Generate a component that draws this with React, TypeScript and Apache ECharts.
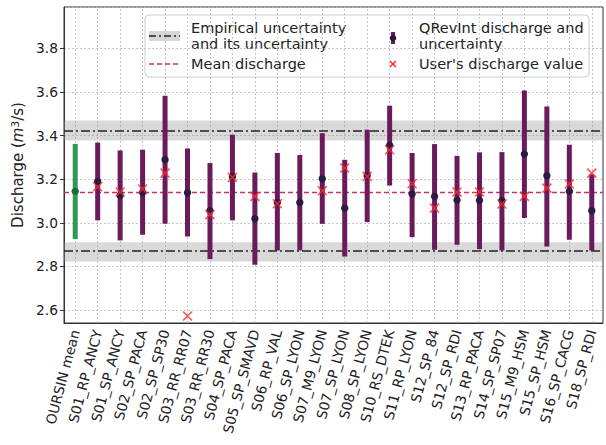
import React, { useEffect, useRef } from "react";
import * as echarts from "echarts";

const categories = [
  "OURSIN mean", "S01_RP_ANCY", "S01_SP_ANCY", "S02_SP_PACA", "S02_SP_SP30",
  "S03_RR_RR07", "S03_RR_RR30", "S04_SP_PACA", "S05_SP_SMAVD", "S06_RP_VAL",
  "S06_SP_LYON", "S07_M9_LYON", "S07_SP_LYON", "S08_SP_LYON", "S10_RS_DTEK",
  "S11_RP_LYON", "S12_SP_84", "S12_SP_RDI", "S13_RP_PACA", "S14_SP_SP07",
  "S15_M9_HSM", "S15_SP_HSM", "S16_SP_CACG", "S18_SP_RDI",
];
const qrevLow = [
  2.925, 3.011, 2.919, 2.945, 2.995, 2.937, 2.833, 3.011, 2.807, 2.873,
  2.873, 2.995, 2.845, 3.003, 3.171, 2.934, 2.876, 2.899, 2.879, 2.873,
  3.022, 2.891, 2.922, 2.873,
];
const qrevHigh = [
  3.362, 3.368, 3.332, 3.335, 3.583, 3.341, 3.274, 3.404, 3.231, 3.320,
  3.311, 3.411, 3.289, 3.427, 3.537, 3.320, 3.361, 3.307, 3.323, 3.324,
  3.607, 3.534, 3.358, 3.223,
];
const qrevValue = [
  3.144, 3.189, 3.125, 3.139, 3.289, 3.138, 3.055, 3.211, 3.018, 3.093,
  3.093, 3.202, 3.067, 3.216, 3.355, 3.132, 3.121, 3.104, 3.102, 3.101,
  3.315, 3.216, 3.144, 3.055,
];
const userValue: (number | null)[] = [
  null, 3.165, 3.141, 3.155, 3.228, 2.572, 3.037, 3.208, 3.121, 3.087,
  null, 3.147, 3.251, 3.213, 3.335, 3.179, 3.067, 3.141, 3.141, 3.086,
  3.121, 3.159, 3.178, 3.228,
];
const meanDischarge = 3.144;
const empiricalLines = [3.419, 2.872];
const empiricalBands = [
  [3.377, 3.469],
  [2.822, 2.91],
];
const yMin = 2.54;
const yMax = 3.99;
const yStep = 0.2;

const FONT = "DejaVu Sans";
const PURPLE = "#6b1a5c";
const DOT = "#2c1a42";
const GREEN = "#2e9a5a";
const GREEN_DOT = "#1e6a3c";
const CRIMSON = "#c8326b";
const RED = "#ff2b2b";
const BAND = "rgba(150,150,150,0.36)";
const GRIDC = "#b9b9b9";

export default function App() {
  const ref = useRef<HTMLDivElement>(null);
  useEffect(() => {
    if (!ref.current) return;
    const chart = echarts.init(ref.current, null, { renderer: "svg" });
    const legendText = (x: number, y: number, text: string) => ({
      type: "text",
      x,
      y,
      style: {
        text,
        fontSize: 14.5,
        fontFamily: FONT,
        fill: "#222",
        verticalAlign: "middle",
        lineHeight: 15.5,
      },
    });
    chart.setOption({
      animation: false,
      grid: {
        left: 64,
        right: 3,
        top: 7,
        bottom: 122,
        show: true,
        borderColor: "#333",
        borderWidth: 1,
        backgroundColor: "transparent",
      },
      xAxis: {
        type: "category",
        data: categories,
        boundaryGap: true,
        axisLine: { lineStyle: { color: "#333", width: 1 } },
        axisTick: { alignWithLabel: true, length: 4, lineStyle: { color: "#333" } },
        axisLabel: {
          interval: 0,
          rotate: 75,
          margin: 7,
          fontSize: 13.8,
          fontFamily: FONT,
          color: "#222",
        },
        splitLine: { show: false },
      },
      yAxis: {
        type: "value",
        min: yMin,
        max: yMax,
        minInterval: yStep,
        maxInterval: yStep,
        axisLine: { show: true, lineStyle: { color: "#333", width: 1 } },
        axisTick: { show: true, length: 4, lineStyle: { color: "#333" } },
        axisLabel: {
          showMinLabel: false,
          showMaxLabel: false,
          fontSize: 13.8,
          fontFamily: FONT,
          color: "#222",
          margin: 6,
          formatter: (v: number) => v.toFixed(1),
        },
        splitLine: { show: true, lineStyle: { color: GRIDC, type: [2, 2], width: 0.8 } },
        name: "Discharge ({i|m}{s|3}/s)",
        nameLocation: "middle",
        nameGap: 36,
        nameTextStyle: {
          fontSize: 15,
          fontFamily: FONT,
          color: "#222",
          rich: {
            i: { fontSize: 15, fontFamily: FONT, fontStyle: "italic", color: "#222" },
            s: { fontSize: 10.5, fontFamily: FONT, color: "#222", verticalAlign: "top", padding: [0, 0, 6, 0] },
          },
        },
      },
      series: [
        {
          name: "grid",
          type: "line",
          data: [],
          silent: true,
          markLine: {
            silent: true,
            z: 0,
            symbol: "none",
            label: { show: false },
            lineStyle: { color: GRIDC, type: [2, 2], width: 0.8 },
            data: categories.map((c) => ({ xAxis: c })),
          },
          markArea: {
            silent: true,
            z: 1,
            itemStyle: { color: BAND },
            data: empiricalBands.map((b) => [{ yAxis: b[0] }, { yAxis: b[1] }]),
          },
        },
        {
          name: "lines",
          type: "line",
          data: [],
          silent: true,
          markLine: {
            silent: true,
            z: 2,
            symbol: "none",
            label: { show: false },
            data: [
              ...empiricalLines.map((v) => ({
                yAxis: v,
                lineStyle: { color: "#222", type: [9, 3, 2, 3], width: 1.5 },
              })),
              {
                yAxis: meanDischarge,
                lineStyle: { color: CRIMSON, type: [5, 3], width: 1.3 },
              },
            ],
          },
        },
        {
          name: "QRevInt discharge and uncertainty",
          type: "custom",
          z: 3,
          silent: true,
          data: categories.map((c, i) => [i, qrevLow[i], qrevHigh[i], qrevValue[i]]),
          encode: { x: 0, y: [1, 2, 3] },
          renderItem: (params: any, api: any) => {
            const i = api.value(0);
            const lo = api.coord([i, api.value(1)]);
            const hi = api.coord([i, api.value(2)]);
            const mid = api.coord([i, api.value(3)]);
            const isMean = categories[params.dataIndex] === "OURSIN mean";
            return {
              type: "group",
              children: [
                {
                  type: "rect",
                  shape: { x: lo[0] - 2.5, y: hi[1], width: 5, height: lo[1] - hi[1] },
                  style: { fill: isMean ? GREEN : PURPLE },
                },
                {
                  type: "circle",
                  shape: { cx: mid[0], cy: mid[1], r: 3.7 },
                  style: { fill: isMean ? GREEN_DOT : DOT },
                },
              ],
            };
          },
        },
        {
          name: "User's discharge value",
          type: "scatter",
          z: 4,
          silent: true,
          symbol: "path://M0,0L10,10M10,0L0,10",
          symbolSize: 9,
          itemStyle: { color: "rgba(0,0,0,0)", borderColor: RED, borderWidth: 1.6 },
          data: userValue.flatMap((v, i) => (v == null ? [] : [[i, v]])),
        },
      ],
      graphic: [
        {
          type: "group",
          z: 100,
          children: [
            {
              type: "rect",
              shape: { x: 145, y: 15, width: 444, height: 62, r: 4 },
              style: { fill: "rgba(255,255,255,0.9)", stroke: "#cccccc", lineWidth: 1 },
            },
            {
              type: "rect",
              shape: { x: 149, y: 31, width: 31, height: 10 },
              style: { fill: "#d6d6d6" },
            },
            {
              type: "line",
              shape: { x1: 149, y1: 36, x2: 180, y2: 36 },
              style: { stroke: "#222", lineWidth: 1.5, lineDash: [7, 3, 2, 3] },
            },
            legendText(191, 36, "Empirical uncertainty\nand its uncertainty"),
            {
              type: "line",
              shape: { x1: 149, y1: 64, x2: 180, y2: 64 },
              style: { stroke: CRIMSON, lineWidth: 1.3, lineDash: [5, 3] },
            },
            legendText(191, 64, "Mean discharge"),
            {
              type: "rect",
              shape: { x: 391, y: 32, width: 4, height: 12 },
              style: { fill: PURPLE },
            },
            {
              type: "circle",
              shape: { cx: 393, cy: 38, r: 3.3 },
              style: { fill: DOT },
            },
            legendText(419, 36, "QRevInt discharge and\nuncertainty"),
            {
              type: "line",
              shape: { x1: 390, y1: 61, x2: 396, y2: 67 },
              style: { stroke: RED, lineWidth: 1.5 },
            },
            {
              type: "line",
              shape: { x1: 396, y1: 61, x2: 390, y2: 67 },
              style: { stroke: RED, lineWidth: 1.5 },
            },
            legendText(419, 64, "User's discharge value"),
          ],
        },
      ],
    });
    return () => chart.dispose();
  }, []);
  return (
    <div
      ref={ref}
      style={{ position: "fixed", left: 0, top: 0, width: 606, height: 445, background: "#fff" }}
    />
  );
}
